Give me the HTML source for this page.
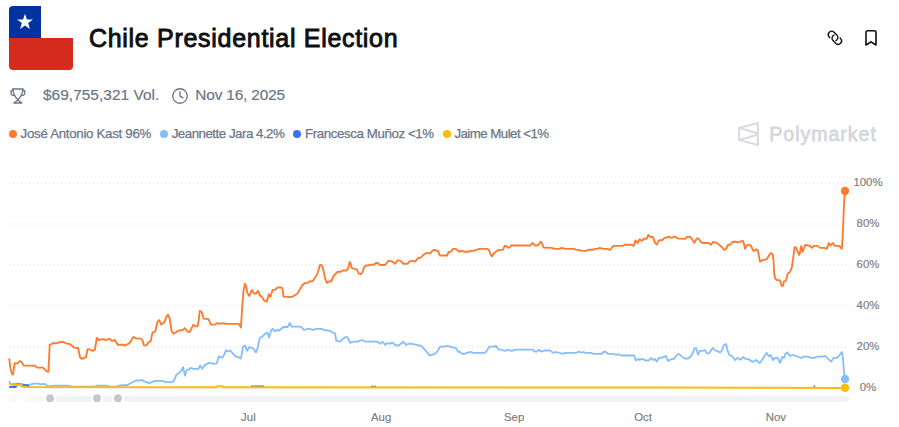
<!DOCTYPE html>
<html><head><meta charset="utf-8">
<style>
html,body{margin:0;padding:0;background:#fff;}
body{width:899px;height:427px;position:relative;overflow:hidden;font-family:"Liberation Sans",sans-serif;}
.abs{position:absolute;white-space:nowrap;line-height:1;}
#title{left:89px;top:26px;font-size:25px;font-weight:normal;color:#0e0f11;letter-spacing:0.7px;-webkit-text-stroke:0.9px #0e0f11;}
.meta{font-size:15.4px;color:#6b7587;-webkit-text-stroke:0.2px #6b7587;}
.leg{font-size:13.3px;color:#6b7587;-webkit-text-stroke:0.25px #6b7587;}
.dot{position:absolute;width:8px;height:8px;border-radius:50%;}
.yl{font-size:11.4px;color:#7b7b7b;-webkit-text-stroke:0.15px #7b7b7b;width:40px;text-align:center;left:848px;}
.xl{font-size:11.4px;color:#7b7b7b;-webkit-text-stroke:0.15px #7b7b7b;width:40px;text-align:center;}
#pm{left:769.3px;top:125px;font-size:19.6px;font-weight:normal;color:#d6d7df;letter-spacing:0.95px;-webkit-text-stroke:0.8px #d6d7df;}
</style></head><body>
<!-- flag -->
<svg class="abs" style="left:9px;top:6px" width="64" height="64" viewBox="0 0 64 64">
<path d="M0 32H64V60a4 4 0 0 1-4 4H4a4 4 0 0 1-4-4Z" fill="#d52b1e"/>
<path d="M0 4a4 4 0 0 1 4-4H32V32H0Z" fill="#0033a0"/>
<polygon id="star" fill="#fff" points="16.00,7.70 17.94,13.43 23.99,13.50 19.14,17.12 20.94,22.90 16.00,19.40 11.06,22.90 12.86,17.12 8.01,13.50 14.06,13.43"/>
</svg>
<div id="title" class="abs">Chile Presidential Election</div>

<!-- top-right icons -->
<svg class="abs" style="left:826px;top:29px" width="18" height="18" viewBox="0 0 18 18" fill="none" stroke="#0e0f11" stroke-width="1.35" stroke-linecap="round">
<path d="M3.75 8.55L3.19 7.99A3.4 3.4 0 0 1 7.99 3.19L10.89 6.09A3.4 3.4 0 0 1 9.87 11.60"/><path d="M14.13 9.09L14.69 9.65A3.4 3.4 0 0 1 9.89 14.45L6.99 11.55A3.4 3.4 0 0 1 8.01 6.04"/>
</svg>
<svg class="abs" style="left:863px;top:28px" width="16" height="20" viewBox="0 0 16 20" fill="none" stroke="#0e0f11" stroke-width="1.6" stroke-linejoin="round">
<path d="M3 4.3a1.5 1.5 0 0 1 1.500-1.500h7a1.500 1.500 0 0 1 1.500 1.500V17l-5-3.200-5 3.200Z"/>
</svg>

<!-- meta row -->
<svg class="abs" style="left:10px;top:88px" width="17" height="17" viewBox="0 0 17 17" fill="none" stroke="#6b7587" stroke-width="1.3" stroke-linejoin="round" stroke-linecap="round">
<path d="M2.800 1H13"/><path d="M2.900 1C2.900 5.200 4.300 8 7.900 11.900"/><path d="M12.900 1C12.900 5.200 11.500 8 7.900 11.900"/><path d="M7.900 11.900L3.900 15H11.900Z"/><path d="M3 2.700H1V5C1 6.400 2.400 7.500 4.200 7.600"/><path d="M12.800 2.700H14.800V5C14.800 6.400 13.400 7.500 11.600 7.600"/>
</svg>
<div class="abs meta" style="left:43px;top:86.6px;letter-spacing:0.05px">$69,755,321 Vol.</div>
<svg class="abs" style="left:172px;top:88px" width="16" height="16" viewBox="0 0 16 16" fill="none" stroke="#687284" stroke-width="1.300" stroke-linecap="round" stroke-linejoin="round">
<circle cx="8" cy="8" r="7.250"/><path d="M8 3.800v4.300l3 1.800"/>
</svg>
<div class="abs meta" style="left:195.3px;top:86.6px;letter-spacing:-0.16px">Nov 16, 2025</div>

<!-- legend -->
<div class="dot" style="left:9px;top:130px;background:#ff7a2f"></div>
<div class="abs leg" style="left:20.6px;top:127px;letter-spacing:-0.30px">José Antonio Kast 96%</div>
<div class="dot" style="left:160px;top:130px;background:#86bdff"></div>
<div class="abs leg" style="left:171.7px;top:127px;letter-spacing:-0.49px">Jeannette Jara 4.2%</div>
<div class="dot" style="left:293px;top:130px;background:#3b73f6"></div>
<div class="abs leg" style="left:305px;top:127px;letter-spacing:-0.40px">Francesca Muñoz &lt;1%</div>
<div class="dot" style="left:443px;top:130px;background:#fbbc0a"></div>
<div class="abs leg" style="left:454.4px;top:127px;letter-spacing:-0.54px">Jaime Mulet &lt;1%</div>

<!-- watermark -->
<svg class="abs" style="left:736px;top:119px" width="26" height="30" viewBox="0 0 26 30" fill="none" stroke="#d9dae1" stroke-width="2" stroke-linejoin="miter">
<path d="M3.100 8.900L21.900 4V26L3.100 21.100Z"/><path d="M3.100 8.900L21.900 14.500"/><path d="M3.100 21.100L21.900 15.500"/>
</svg>
<div id="pm" class="abs">Polymarket</div>

<!-- chart -->
<svg class="abs" style="left:0;top:0" width="899" height="427" viewBox="0 0 899 427" fill="none">
<g stroke="#d8d8d8" stroke-width="1" stroke-dasharray="1 3">
<path d="M9 183H846"/><path d="M9 224H846"/><path d="M9 265H846"/><path d="M9 306H846"/><path d="M9 347H846"/><path d="M9 388H846"/>
</g>
<g fill="#000" fill-opacity="0.007"><circle cx="845" cy="191" r="12"/><circle cx="845" cy="384" r="13"/></g>
<defs><linearGradient id="fade" x1="0" x2="1"><stop offset="0" stop-color="#fbfbfc"/><stop offset="1" stop-color="#f5f6f7"/></linearGradient></defs>
<rect x="50" y="396" width="799" height="6" rx="3" fill="#f1f2f4"/>
<rect x="20" y="396" width="26" height="6" fill="url(#fade)"/>
<circle cx="13.300" cy="398.200" r="4" fill="#fafafa"/>
<g fill="#c5c8cd" stroke="#fff" stroke-width="2.400"><circle cx="50" cy="398.200" r="5.100"/><circle cx="97" cy="398.200" r="5.100"/><circle cx="118" cy="398.200" r="5.100"/></g>
<path id="orange" stroke="#ff7a2f" stroke-width="1.85" stroke-linejoin="round" stroke-linecap="butt" d="M9.2 358.4 L10.3 367.6 L11.7 373.4 L13.0 374.7 L14.7 363.1 L17.5 363.4 L20.0 360.9 L21.7 362.1 L23.7 365.6 L35.0 365.6 L37.0 367.6 L43.0 367.6 L46.7 371.4 L48.4 371.7 L49.7 345.0 L53.4 343.0 L56.7 343.4 L58.4 342.5 L63.1 341.7 L65.9 343.4 L70.1 344.2 L74.3 347.7 L78.1 348.0 L80.1 357.6 L82.1 358.9 L85.9 357.2 L87.6 349.2 L90.9 349.7 L92.6 350.9 L94.8 350.0 L96.8 338.0 L98.8 340.0 L102.6 339.2 L106.0 340.0 L109.3 338.7 L112.1 340.9 L114.8 340.0 L117.6 344.7 L122.6 344.7 L125.1 345.5 L129.3 343.4 L133.5 336.7 L136.0 338.4 L141.0 338.7 L142.7 340.9 L143.8 345.4 L146.5 345.4 L148.3 342.6 L150.8 340.9 L152.5 332.6 L155.3 331.4 L157.5 321.7 L159.2 320.1 L161.2 324.6 L164.2 322.6 L166.4 316.7 L167.9 314.7 L169.5 317.5 L171.7 331.7 L173.7 333.7 L176.7 331.7 L180.4 330.1 L182.5 330.4 L184.7 328.1 L187.5 331.4 L189.6 332.1 L193.4 324.7 L195.9 326.4 L197.6 326.4 L198.7 320.1 L199.7 310.9 L201.7 312.0 L203.7 318.7 L208.4 319.2 L210.9 324.6 L215.1 324.6 L216.7 323.1 L219.3 323.9 L223.4 323.1 L225.9 323.9 L238.4 323.9 L239.8 325.1 L240.9 327.6 L242.1 308.4 L243.4 291.7 L244.8 283.7 L245.9 285.8 L247.6 293.4 L249.3 295.9 L251.8 290.0 L254.3 293.7 L256.0 293.4 L258.1 290.9 L260.1 295.9 L261.8 296.7 L264.3 300.9 L266.8 301.7 L268.8 294.2 L270.5 296.7 L272.6 290.0 L275.2 289.7 L277.7 287.5 L281.8 287.5 L282.8 290.0 L283.5 296.7 L290.0 297.1 L292.5 296.7 L297.5 293.4 L300.0 289.2 L302.5 284.7 L305.0 283.1 L307.5 282.9 L309.7 281.2 L312.5 281.4 L315.0 277.5 L317.0 274.7 L318.7 269.2 L320.0 265.0 L322.0 265.4 L323.4 270.0 L325.0 278.4 L327.0 282.9 L329.2 281.2 L331.4 281.4 L333.0 276.7 L337.6 271.7 L340.9 271.7 L342.6 270.5 L346.7 270.5 L348.1 268.4 L349.6 262.0 L350.6 263.4 L351.7 268.0 L354.2 268.9 L356.7 269.2 L358.7 273.7 L360.9 274.2 L362.6 271.7 L364.3 266.7 L365.9 265.5 L368.4 265.5 L370.9 264.7 L374.3 264.7 L375.9 262.9 L377.6 263.0 L380.1 265.0 L385.1 265.0 L388.4 260.9 L390.9 261.2 L392.6 261.7 L395.1 263.7 L397.6 260.4 L399.8 260.4 L403.5 263.7 L407.6 263.7 L410.1 260.9 L412.6 260.9 L415.1 261.7 L418.1 258.0 L421.0 257.5 L423.5 254.7 L426.8 252.9 L430.2 253.4 L432.7 250.4 L434.3 250.0 L438.0 250.9 L439.7 255.5 L447.0 255.5 L448.7 252.0 L450.9 251.7 L453.0 248.9 L455.9 248.9 L459.2 251.7 L461.7 250.9 L464.2 251.7 L468.4 251.7 L470.9 250.9 L475.0 250.5 L479.2 248.9 L487.6 248.9 L489.2 250.5 L490.9 255.0 L492.1 256.4 L493.7 253.4 L498.1 250.0 L503.1 249.7 L504.7 245.9 L506.4 246.2 L507.6 247.5 L509.3 247.5 L510.9 245.5 L530.1 245.5 L532.6 242.9 L534.8 245.5 L537.6 245.5 L539.3 243.7 L540.6 241.7 L541.8 243.0 L543.5 247.5 L551.8 247.9 L554.3 248.9 L559.3 248.9 L561.8 247.9 L565.2 248.9 L573.5 248.9 L576.0 249.7 L579.3 250.0 L581.8 250.9 L585.8 250.9 L589.2 249.7 L593.3 249.7 L595.0 248.9 L597.5 248.9 L599.7 247.9 L603.4 248.9 L607.5 248.9 L610.0 250.0 L613.4 245.9 L622.5 245.9 L625.1 244.7 L631.7 244.7 L633.7 245.9 L635.4 240.4 L637.6 242.9 L639.6 239.2 L642.1 240.9 L643.7 238.7 L646.7 238.7 L648.4 235.0 L650.9 237.2 L652.9 236.7 L655.1 243.0 L656.8 244.7 L658.8 240.4 L662.6 240.0 L664.3 237.9 L665.9 237.9 L668.4 236.7 L671.8 237.9 L673.8 236.7 L675.9 237.2 L678.4 238.7 L685.1 238.9 L687.3 236.7 L690.1 237.0 L692.1 239.2 L694.3 242.9 L696.8 238.4 L698.5 238.4 L701.0 242.2 L702.6 243.0 L708.5 242.9 L711.0 244.7 L713.0 242.0 L716.8 242.9 L719.3 245.0 L721.5 246.7 L724.2 250.0 L725.8 249.2 L728.0 245.0 L730.3 244.5 L732.5 241.7 L735.9 241.7 L737.5 242.5 L740.0 241.7 L742.9 240.9 L743.9 243.4 L745.0 248.9 L746.7 245.4 L749.7 244.7 L751.4 246.7 L753.0 250.4 L754.7 250.9 L756.4 249.2 L758.0 250.9 L760.0 261.7 L763.0 260.0 L766.7 259.2 L768.7 255.9 L770.9 252.9 L772.6 254.2 L773.4 259.2 L774.2 273.4 L775.1 278.4 L776.7 280.1 L779.7 280.1 L781.7 285.9 L783.1 285.9 L783.9 281.4 L785.9 280.9 L787.6 273.9 L790.1 271.7 L791.8 267.5 L793.1 258.4 L794.6 247.2 L795.9 247.5 L797.6 251.7 L799.3 255.0 L801.3 245.9 L802.6 251.7 L805.1 245.0 L808.4 245.4 L810.1 246.2 L812.1 247.9 L813.8 245.9 L817.6 245.9 L820.1 247.9 L824.3 247.9 L826.8 248.9 L828.8 243.0 L830.5 245.4 L833.0 242.9 L834.8 245.9 L839.3 245.9 L841.8 248.9 L842.6 238.0 L843.3 222.0 L844.2 200.0 L844.8 191.0"/>
<path id="lblue" stroke="#86bdff" stroke-width="1.8" stroke-linejoin="round" stroke-linecap="butt" d="M9.3 381.0 L10.0 383.3 L10.8 384.2 L14.3 383.7 L21.7 383.9 L25.0 385.0 L30.4 384.7 L33.0 383.7 L38.4 383.7 L40.4 384.4 L44.7 383.9 L46.7 385.6 L48.5 386.4 L55.0 385.6 L68.0 385.6 L72.0 386.6 L95.0 386.6 L97.0 385.6 L107.0 385.6 L109.0 386.6 L117.0 386.6 L119.3 385.5 L127.6 385.0 L131.8 382.5 L136.0 380.5 L140.2 380.5 L141.8 379.7 L144.3 381.4 L149.2 383.1 L155.0 380.9 L162.5 380.9 L165.9 382.1 L172.5 382.1 L174.2 380.1 L176.2 375.1 L179.2 372.6 L181.4 370.9 L183.0 367.2 L185.0 375.6 L186.7 370.1 L188.7 369.6 L190.4 367.9 L193.4 368.9 L198.4 368.9 L200.1 365.4 L202.2 368.9 L204.7 365.1 L209.2 362.9 L214.2 363.9 L216.7 363.4 L218.8 356.2 L220.9 357.5 L223.1 357.0 L225.9 350.4 L228.1 351.4 L230.4 350.9 L235.9 356.7 L238.4 357.0 L240.9 358.7 L243.1 346.7 L245.1 345.4 L247.1 350.9 L249.3 347.0 L253.5 348.7 L256.0 352.5 L257.6 348.4 L259.8 338.0 L262.6 336.4 L266.5 332.5 L267.6 333.0 L269.0 337.5 L271.0 330.8 L272.6 328.7 L274.8 331.3 L276.8 330.0 L279.3 330.5 L283.2 327.0 L287.7 327.0 L289.8 323.0 L291.7 326.7 L300.8 326.7 L304.2 330.0 L307.5 328.9 L310.0 328.9 L312.5 330.0 L315.9 328.9 L321.7 328.9 L324.2 330.0 L330.0 330.9 L332.5 332.5 L335.1 333.4 L336.2 340.9 L340.1 341.7 L342.6 339.2 L345.9 336.7 L347.6 337.5 L350.1 342.9 L352.6 341.7 L357.6 341.7 L359.2 340.9 L362.6 340.0 L365.1 341.7 L377.6 341.7 L380.1 343.9 L382.6 341.7 L385.1 345.0 L386.8 343.0 L389.3 343.9 L392.1 342.5 L396.0 345.5 L398.5 345.5 L403.5 341.7 L406.0 345.0 L408.5 343.7 L412.6 343.9 L416.8 345.0 L421.0 345.9 L425.2 350.0 L429.8 355.6 L431.8 354.7 L433.8 354.7 L436.8 352.0 L438.5 349.5 L440.0 346.7 L445.0 346.7 L447.0 345.9 L450.0 346.7 L452.5 347.5 L455.9 347.9 L458.0 351.7 L460.0 352.0 L462.5 353.9 L464.7 353.9 L466.7 352.9 L470.9 352.0 L473.4 352.9 L484.2 352.9 L486.4 351.4 L489.2 346.7 L494.2 346.7 L495.9 345.9 L498.4 349.2 L501.7 350.0 L505.1 350.9 L507.6 349.7 L511.8 350.9 L515.9 349.7 L532.6 349.7 L535.1 351.7 L537.1 351.7 L538.8 349.7 L541.5 351.7 L544.3 350.5 L550.1 350.5 L553.1 352.9 L556.0 352.0 L560.1 353.0 L562.6 353.9 L565.2 352.9 L576.0 352.9 L578.5 351.7 L581.8 352.5 L583.3 352.0 L585.8 352.9 L590.8 352.9 L593.3 353.9 L601.7 353.9 L603.4 352.0 L605.4 351.7 L608.4 353.9 L613.4 353.9 L616.7 355.0 L618.7 354.2 L620.9 355.5 L634.2 355.5 L635.9 360.5 L638.4 358.7 L639.7 360.0 L641.7 358.9 L645.9 360.5 L648.7 360.5 L650.9 358.0 L653.4 360.0 L654.8 358.9 L656.8 361.7 L658.8 357.9 L662.6 357.5 L665.9 355.9 L668.1 360.9 L671.4 359.2 L674.3 358.7 L676.8 355.0 L678.8 353.9 L681.8 356.4 L684.8 358.7 L687.6 358.7 L690.5 356.7 L692.6 353.4 L694.3 348.7 L696.0 348.0 L698.0 354.7 L699.8 350.9 L702.6 350.9 L704.8 350.0 L706.8 353.4 L709.3 353.4 L711.3 349.7 L713.0 348.0 L715.2 350.5 L717.7 351.2 L720.2 352.5 L722.0 350.0 L724.2 344.7 L726.2 344.2 L727.5 350.0 L729.2 355.0 L732.0 356.2 L735.0 360.0 L737.5 357.9 L740.9 359.7 L743.0 357.0 L745.4 358.9 L749.2 359.5 L752.5 362.0 L755.9 360.0 L759.7 363.0 L762.5 359.2 L765.1 355.0 L766.7 352.9 L768.7 356.2 L770.6 355.0 L773.1 360.0 L775.1 357.9 L777.6 357.9 L780.1 362.9 L782.1 357.0 L783.9 358.0 L785.4 353.7 L787.2 352.5 L790.1 355.9 L792.6 355.0 L796.8 356.2 L800.9 358.0 L803.4 356.7 L807.6 356.7 L810.9 357.9 L814.3 357.9 L816.8 356.7 L822.6 356.7 L825.1 355.9 L831.0 361.7 L833.5 357.9 L836.8 357.9 L839.3 355.5 L841.8 352.0 L843.0 358.4 L844.3 376.7 L844.8 379.0"/>
<path id="dblue" stroke="#3b73f6" stroke-width="2" stroke-linejoin="round" stroke-linecap="butt" d="M9.3 386.9L15.7 386.9L16.5 385.2L17.2 384.4L19 384.4L21 385.5L23.7 385.3L27.7 385.3L29 387M251 386.5L264.3 386.5M371 386.7L376 386.7M813.6 386.5L815.2 386.5"/>
<path id="yellow" stroke="#fbbc0a" stroke-width="2" stroke-linejoin="round" stroke-linecap="butt" d="M9.3 383.7L11 384.3L13.7 385L18.3 385L21 384.7L22.4 386.4L25 386.9L216 387.2L217 386.2L222.6 386.2L223.6 387.2L655 387.6L845 387.9"/>
<circle cx="845" cy="191" r="4.200" fill="#ff7a2f"/>
<circle cx="845" cy="379" r="4.200" fill="#86bdff"/>
<circle cx="845" cy="387.800" r="4.200" fill="#fbbc0a"/>
</svg>
<div class="abs yl" style="top:176.8px">100%</div>
<div class="abs yl" style="top:217.8px">80%</div>
<div class="abs yl" style="top:258.8px">60%</div>
<div class="abs yl" style="top:299.8px">40%</div>
<div class="abs yl" style="top:340.8px">20%</div>
<div class="abs yl" style="top:381.8px">0%</div>
<div class="abs xl" style="left:228.4px;top:412.2px">Jul</div>
<div class="abs xl" style="left:361.1px;top:412.2px">Aug</div>
<div class="abs xl" style="left:494.1px;top:412.2px">Sep</div>
<div class="abs xl" style="left:623px;top:412.2px">Oct</div>
<div class="abs xl" style="left:755.8px;top:412.2px">Nov</div>
</body></html>
